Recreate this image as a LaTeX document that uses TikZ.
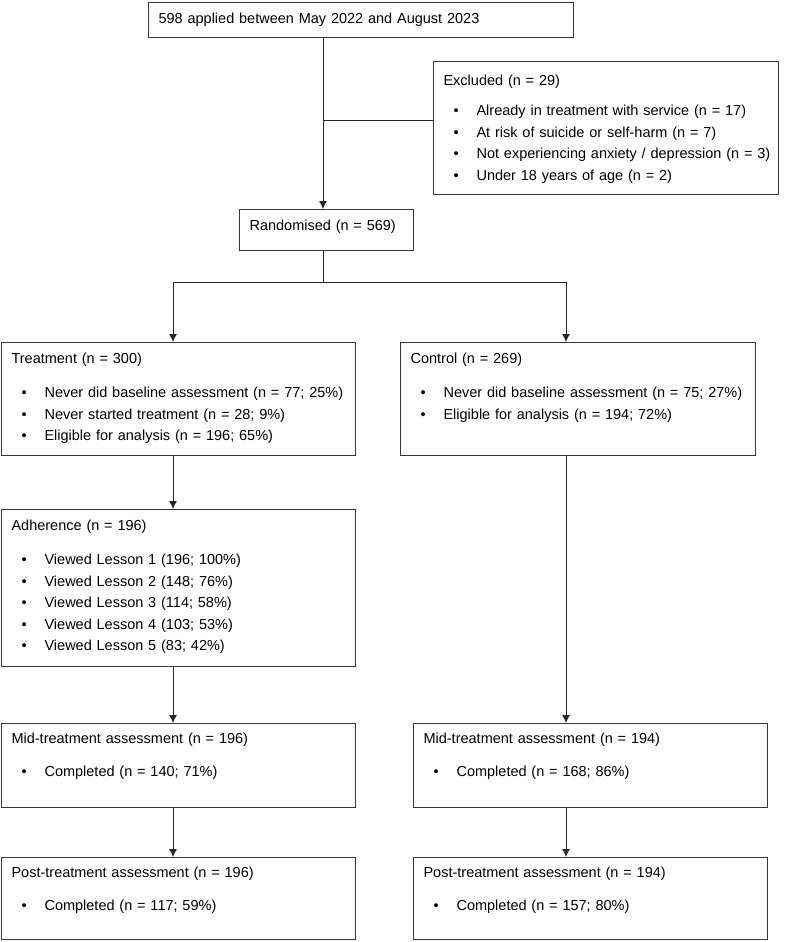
\documentclass[tikz,border=0pt]{standalone}
\usepackage{fontspec}
\setmainfont{Liberation Sans}
\usepackage{tikz}
\usetikzlibrary{arrows.meta,positioning,calc}

\newcommand{\bulitem}[1]{\hspace*{10pt}\makebox[23pt][l]{\textbullet}\mbox{#1}}

\begin{document}
\begin{tikzpicture}[
  x=1pt, y=-1pt,
  panel/.style={draw=black!78, line width=1.1pt, anchor=north west,
    inner xsep=10pt, inner ysep=10pt, text height=11pt, align=left,
    font=\fontsize{14.5}{21.5}\selectfont},
  line/.style={draw=black!85, line width=0.9pt},
  arr/.style={line, -{Latex[length=8pt,width=8pt]}}
]
\useasboundingbox (0,0) rectangle (788,942);

\node[panel, text width=405pt, text depth=4pt] (applied) at (148,2)
  {598 applied between May 2022 and August 2023};
\node[panel, text width=325pt, text height=14pt, text depth=99pt] (exclu) at (433,61)
  {Excluded (n = 29)\\[8.5pt]
   \bulitem{Already in treatment with service (n = 17)}\\
   \bulitem{At risk of suicide or self-harm (n = 7)}\\
   \bulitem{Not experiencing anxiety / depression (n = 3)}\\
   \bulitem{Under 18 years of age (n = 2)}};
\node[panel, text width=154pt, text depth=10pt] (rand) at (239,209)
  {Randomised (n = 569)};
\node[panel, text width=334pt, text depth=82pt] (treat) at (1,342)
  {Treatment (n = 300)\\[12.5pt]
   \bulitem{Never did baseline assessment (n = 77; 25\%)}\\
   \bulitem{Never started treatment (n = 28; 9\%)}\\
   \bulitem{Eligible for analysis (n = 196; 65\%)}};
\node[panel, text width=335pt, text depth=82pt] (ctrl) at (400,342)
  {Control (n = 269)\\[12.5pt]
   \bulitem{Never did baseline assessment (n = 75; 27\%)}\\
   \bulitem{Eligible for analysis (n = 194; 72\%)}};
\node[panel, text width=334pt, text depth=126pt] (adher) at (1,509)
  {Adherence (n = 196)\\[12.5pt]
   \bulitem{Viewed Lesson 1 (196; 100\%)}\\
   \bulitem{Viewed Lesson 2 (148; 76\%)}\\
   \bulitem{Viewed Lesson 3 (114; 58\%)}\\
   \bulitem{Viewed Lesson 4 (103; 53\%)}\\
   \bulitem{Viewed Lesson 5 (83; 42\%)}};
\node[panel, text width=334pt, text height=10pt, text depth=54pt] (midT) at (1,723)
  {Mid-treatment assessment (n = 196)\\[11.5pt]
   \bulitem{Completed (n = 140; 71\%)}};
\node[panel, text width=334pt, text height=10pt, text depth=54pt] (midC) at (413,723)
  {Mid-treatment assessment (n = 194)\\[11.5pt]
   \bulitem{Completed (n = 168; 86\%)}};
\node[panel, text width=334pt, text height=10pt, text depth=52pt] (postT) at (1,857)
  {Post-treatment assessment (n = 196)\\[11.5pt]
   \bulitem{Completed (n = 117; 59\%)}};
\node[panel, text width=334pt, text height=10pt, text depth=52pt] (postC) at (413,857)
  {Post-treatment assessment (n = 194)\\[11.5pt]
   \bulitem{Completed (n = 157; 80\%)}};

\coordinate (split) at (323,120);
\coordinate (forkL) at (173,282);
\coordinate (forkR) at (566,282);

\draw[arr] (applied.south -| split) -- (rand.north -| split);
\draw[line] (split) -- (split -| exclu.west);
\draw[line] (rand.south -| split) -- (split |- forkL);
\draw[line] (forkL) -- (forkR);
\draw[arr] (forkL) -- (forkL |- treat.north);
\draw[arr] (forkR) -- (forkR |- ctrl.north);
\draw[arr] (treat.south -| forkL) -- (adher.north -| forkL);
\draw[arr] (adher.south -| forkL) -- (midT.north -| forkL);
\draw[arr] (midT.south -| forkL) -- (postT.north -| forkL);
\draw[arr] (ctrl.south -| forkR) -- (midC.north -| forkR);
\draw[arr] (midC.south -| forkR) -- (postC.north -| forkR);
\end{tikzpicture}
\end{document}
